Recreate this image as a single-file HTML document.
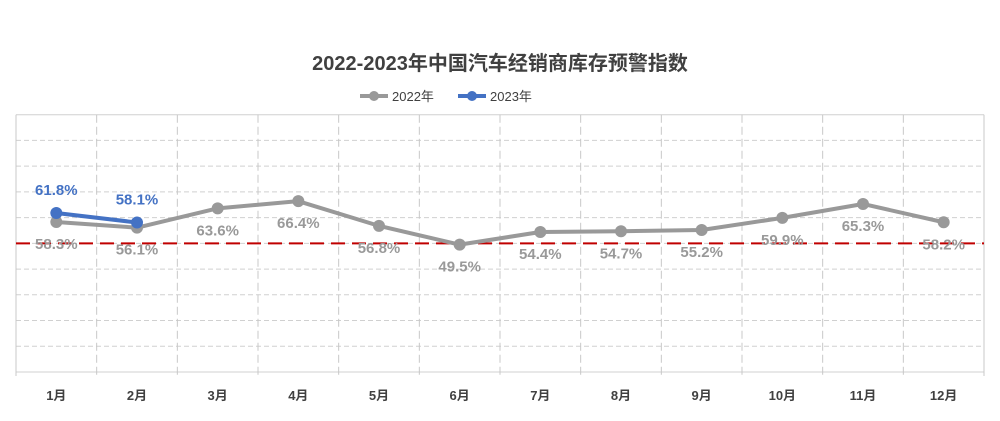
<!DOCTYPE html>
<html><head><meta charset="utf-8"><style>
body{margin:0;background:#fff;width:1000px;height:416px;overflow:hidden}
svg text{font-family:"Liberation Sans","Noto Sans CJK SC",sans-serif}
</style></head><body>
<svg id="c" width="1000" height="416">
<text x="500" y="70" text-anchor="middle" font-size="20" font-weight="bold" fill="#404040">2022-2023年中国汽车经销商库存预警指数</text>
<g>
<g><line x1="360" y1="96" x2="388" y2="96" stroke="#999" stroke-width="4"/><circle cx="374" cy="96" r="5" fill="#999"/><text x="392" y="101" font-size="13" fill="#404040">2022年</text></g>
<g><line x1="458" y1="96" x2="486" y2="96" stroke="#4472C4" stroke-width="4"/><circle cx="472" cy="96" r="5" fill="#4472C4"/><text x="490" y="101" font-size="13" fill="#404040">2023年</text></g>
</g>
<g id="grid"></g><g id="marks"></g>
</svg>
<script>
const categories=["1月","2月","3月","4月","5月","6月","7月","8月","9月","10月","11月","12月"];
const values2022=[58.3,56.1,63.6,66.4,56.8,49.5,54.4,54.7,55.2,59.9,65.3,58.2];
const values2023=[61.8,58.1];
const yTicks=[0,10,20,30,40,50,60,70,80,90,100];
const warningLine=50;
const L=16,R=984,T=114.7,B=372,yMax=100;
const NS="http://www.w3.org/2000/svg";
const bw=(R-L)/categories.length;
const xS=i=>L+bw*(i+0.5);
const yS=v=>B-(v/yMax)*(B-T);
function mk(tag,attrs,parent,txt){const e=document.createElementNS(NS,tag);for(const k in attrs)e.setAttribute(k,attrs[k]);if(txt!=null)e.textContent=txt;parent.appendChild(e);return e;}
const g=document.getElementById('grid'),m=document.getElementById('marks');
yTicks.forEach(t=>{const y=yS(t);const solid=(t===0||t===yMax);
const l=mk('line',{x1:L,x2:R,y1:y,y2:y,stroke:'#d0d0d0','stroke-width':1,'stroke-dasharray':solid?'none':'5,3'},g);

});
for(let i=0;i<=categories.length;i++){const x=L+bw*i;
const l=mk('line',{x1:x,x2:x,y1:T,y2:B+4,stroke:'#c8c8c8','stroke-width':1,'stroke-dasharray':(i===0||i===categories.length)?'none':'8,4'},g);

}
categories.forEach((c,i)=>{const t=mk('text',{x:xS(i),y:400,'text-anchor':'middle','font-size':13,'font-weight':'bold',fill:'#404040'},g,c);

});
const wl=mk('line',{x1:L,x2:R,y1:yS(warningLine),y2:yS(warningLine),stroke:'#c00000','stroke-width':2,'stroke-dasharray':'14,7'},m);


function series(vals,col,name,below){
const p=mk('polyline',{points:vals.map((v,i)=>xS(i)+','+yS(v)).join(' '),fill:'none',stroke:col,'stroke-width':4,'stroke-linejoin':'round'},m);


vals.forEach((v,i)=>{const c=mk('circle',{cx:xS(i),cy:yS(v),r:6,fill:col},m);


const t=mk('text',{x:xS(i),y:yS(v)+(below?27:-18),'text-anchor':'middle','font-size':15,'font-weight':'bold',fill:col},m,v.toFixed(1)+'%');

});}
series(values2022,'#999999','series-2022',true);
series(values2023,'#4472C4','series-2023',false);
</script>
</body></html>
